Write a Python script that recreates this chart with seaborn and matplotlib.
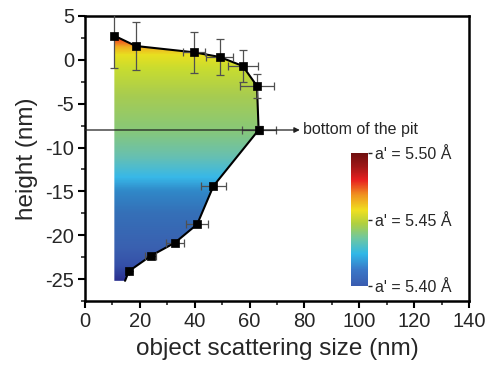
import numpy as np
import pandas as pd
import matplotlib
matplotlib.use("Agg")
import matplotlib.pyplot as plt
import seaborn as sns
from matplotlib.colors import LinearSegmentedColormap
from matplotlib.patches import Polygon
from matplotlib.ticker import MultipleLocator

# ---- data ----
size_nm = [10.7, 18.5, 39.7, 49.1, 57.5, 62.7, 63.3, 46.8, 40.9, 32.8, 23.9, 16.0]
height_nm = [2.75, 1.58, 0.86, 0.33, -0.70, -2.98, -8.0, -14.4, -18.75, -20.85, -22.37, -24.1]
size_err = [0.0, 0.0, 4.0, 5.0, 5.5, 6.2, 6.2, 4.6, 4.1, 3.2, 2.1, 0.0]
height_err = [3.7, 2.7, 2.35, 2.07, 1.8, 1.4, 0.5, 0.0, 0.0, 0.0, 0.0, 0.0]
fill_bottom = -25.2
fill_corner_x = 14.6
pit_height = -8.0
pit_arrow_end = 78.3
pit_label = "bottom of the pit"
cbar_ticks = [5.40, 5.45, 5.50]
cbar_labels = ["a' = 5.40 Å", "a' = 5.45 Å", "a' = 5.50 Å"]
x_label = "object scattering size (nm)"
y_label = "height (nm)"

# gradient stops (height -> colour) for the filled region
grad_h = [2.9, 2.3, 1.5, 0.6, -1.0, -4.0, -8.0, -11.0, -13.4, -15.0, -17.5, -21.5, -23.5, -25.2]
grad_c = ["#d82020", "#f05020", "#f0b020", "#e8e020", "#c8dc30", "#a8cc50", "#88c878",
          "#68c0b0", "#38b8e8", "#3088c8", "#3570b8", "#3a60b0", "#3550a8", "#2a3090"]

sns.set_style("ticks")
plt.rcParams['font.family'] = ['Liberation Sans', 'DejaVu Sans']
plt.rcParams['axes.unicode_minus'] = False

fig = plt.figure(figsize=(4.89, 3.66), dpi=100)
ax = fig.add_axes([85/489, 1-301/366, (469-85)/489, (301-16)/366])

# gradient fill clipped to polygon
hmin, hmax = min(grad_h), max(grad_h)
pos = [(h - hmin)/(hmax - hmin) for h in grad_h]
order = np.argsort(pos)
fill_cmap = LinearSegmentedColormap.from_list("fill", [(pos[i], grad_c[i]) for i in order])
grad = np.linspace(hmax, hmin, 400).reshape(-1, 1)
x0 = size_nm[0]
xmax = max(size_nm) + 1
im = ax.imshow(grad, extent=[x0, xmax, hmin, hmax], cmap=fill_cmap, aspect='auto',
               vmin=hmin, vmax=hmax, origin='upper', zorder=1, interpolation='bilinear')
poly_x = size_nm + [fill_corner_x, x0]
poly_y = height_nm + [fill_bottom, fill_bottom]
poly = Polygon(np.column_stack([poly_x, poly_y]), closed=True, facecolor='none', edgecolor='none')
ax.add_patch(poly)
im.set_clip_path(poly)

# outline
line_df = pd.DataFrame({"x": size_nm + [fill_corner_x], "y": height_nm + [fill_bottom]})
sns.lineplot(data=line_df, x="x", y="y", sort=False, estimator=None, color="black",
             lw=1.5, ax=ax, zorder=3)

# error bars
ax.errorbar(size_nm, height_nm, xerr=size_err, yerr=height_err, fmt='none',
            ecolor="#505050", elinewidth=0.9, capsize=3, capthick=0.9, zorder=4)

# pit arrow
ax.annotate("", xy=(pit_arrow_end, pit_height), xytext=(0, pit_height),
            arrowprops=dict(arrowstyle="-|>", lw=0.9, color="#202020",
                            mutation_scale=8, shrinkA=0, shrinkB=0), zorder=5)
ax.text(pit_arrow_end + 1.0, pit_height, pit_label, va='center', ha='left', fontsize=11.5)

# markers
pts = pd.DataFrame({"x": size_nm, "y": height_nm})
sns.scatterplot(data=pts, x="x", y="y", marker='s', s=30, color='black',
                edgecolor='black', linewidth=0.5, ax=ax, zorder=6)

ax.set_xlim(0, 140)
ax.set_ylim(-27.5, 5)
ax.xaxis.set_major_locator(MultipleLocator(20))
ax.xaxis.set_minor_locator(MultipleLocator(10))
ax.yaxis.set_major_locator(MultipleLocator(5))
ax.yaxis.set_minor_locator(MultipleLocator(2.5))
ax.tick_params(which='major', direction='out', length=5, width=1.5, labelsize=14.5,
               color='black', pad=3)
ax.tick_params(which='minor', direction='out', length=3, width=1.2)
for s in ax.spines.values():
    s.set_linewidth(1.8)
    s.set_color('black')
ax.set_xlabel(x_label, fontsize=17.5, labelpad=5)
ax.set_ylabel(y_label, fontsize=17.5, labelpad=5)

# colour bar
cb_cmap = LinearSegmentedColormap.from_list("cb", [
    (0.0, "#3a5cb0"), (0.12, "#3a78c8"), (0.24, "#30b8e8"), (0.36, "#70c8a0"),
    (0.47, "#b0d040"), (0.57, "#f0e020"), (0.69, "#f09020"), (0.80, "#e82020"),
    (0.90, "#a01818"), (1.0, "#701010")])
cax = fig.add_axes([351/489, 1-286/366, 17/489, 133/366])
cb_vals = np.linspace(cbar_ticks[0], cbar_ticks[-1], 300).reshape(-1, 1)
cax.imshow(cb_vals, cmap=cb_cmap, aspect='auto', origin='lower',
           extent=[0, 1, cbar_ticks[0], cbar_ticks[-1]])
cax.set_xticks([])
cax.yaxis.tick_right()
cax.set_yticks(cbar_ticks)
cax.set_yticklabels(cbar_labels)
cax.tick_params(axis='y', length=3, width=1, labelsize=11.5, pad=2)
for s in cax.spines.values():
    s.set_visible(False)

fig.savefig("out.png", dpi=100)
